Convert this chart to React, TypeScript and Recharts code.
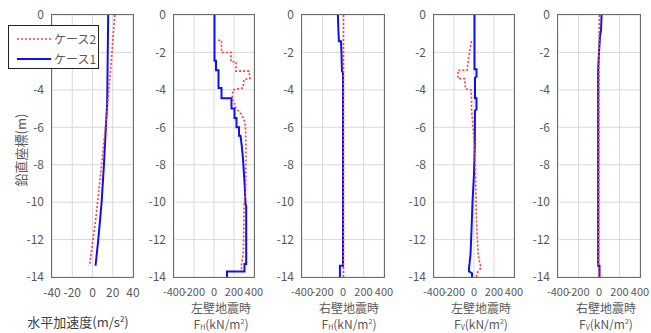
import React from "react";
import {
  ScatterChart,
  Scatter,
  XAxis,
  YAxis,
  CartesianGrid,
} from "recharts";

// depth ticks (m) and x-axis ticks
const depthTicks = [0, -2, -4, -6, -8, -10, -12, -14];
const accelTicks = [-40, -20, 0, 20, 40];
const forceTicks = [-400, -200, 0, 200, 400];

// [value, depth] pairs
const accelCase1 = [[15.5, 0], [14.5, -4.7], [13.2, -6], [11.3, -8], [9, -10], [7.4, -11], [5.7, -12], [3, -13.4]];
const accelCase2 = [[22, 0], [18.5, -2.5], [14.5, -5], [9, -8], [3, -11], [-3, -13.4]];

const leftFhCase1 = [
  [5, 0], [5, -2.45], [20, -2.45], [20, -2.95], [45, -2.95], [45, -3.9], [75, -3.9], [75, -4.45],
  [175, -4.45], [175, -5.0], [205, -5.0], [205, -5.5], [225, -5.5], [225, -6.0], [250, -6.0],
  [250, -6.45], [265, -6.45], [278, -7.0], [290, -7.7], [300, -8.5], [307, -9.1], [315, -10.1],
  [322, -10.2], [322, -13.3], [305, -13.3], [305, -13.7], [130, -13.7], [130, -14],
];
const leftFhCase2 = [
  [40, -1.35], [75, -1.35], [75, -2.0], [170, -2.0], [170, -2.5], [220, -2.5], [220, -3.0],
  [350, -3.0], [360, -3.4], [300, -3.45], [290, -3.9], [190, -4.0], [180, -4.5], [200, -4.6],
  [220, -5.0], [275, -5.3], [300, -5.6], [315, -6.0], [320, -7.0], [318, -8.5], [315, -9.5],
  [300, -10.2], [297, -11.5], [295, -12.5], [285, -13.0], [275, -13.3], [275, -13.6],
];

const rightFhCase1 = [
  [-50, 0], [-45, -0.8], [-40, -1.4], [-20, -1.4], [-15, -2.0], [-10, -3.0], [0, -3.1],
  [0, -13.4], [-30, -13.4], [-30, -14],
];
const rightFhCase2 = [[5, 0], [5, -14]];

const leftFvCase1 = [
  [5, 0], [5, -2.9], [25, -2.9], [25, -3.3], [10, -3.35], [10, -4.45], [25, -4.45], [25, -5.05],
  [10, -5.1], [8, -7], [0, -8.5], [-15, -10], [-25, -11.5], [-35, -12.8], [-45, -13.3],
  [-50, -13.5], [-50, -13.7], [-20, -13.8], [-20, -14],
];
const leftFvCase2 = [
  [-25, -1.4], [-45, -2.0], [-60, -2.5], [-70, -2.95], [-160, -2.95], [-160, -3.4], [-95, -3.4],
  [-85, -3.95], [-30, -4.0], [-25, -4.5], [-25, -5.0], [-10, -6.0], [5, -7.2], [15, -8.5],
  [20, -10], [25, -11], [40, -12.7], [55, -13.2], [70, -13.5], [30, -13.8], [25, -14],
];

const rightFvCase1 = [
  [25, 0], [20, -0.8], [10, -1.1], [0, -2.0], [-8, -2.9], [-8, -13.4], [5, -13.4], [5, -14],
];
const rightFvCase2 = [[5, 0], [0, -2], [-3, -14]];

const toPts = (a: number[][]) => a.map(([x, y]) => ({ x, y }));

const GRAY = "#595959";
const PLOT_TOP = 15;
const PLOT_BOTTOM = 277;
const Empty = () => <g />;

function Panel({ plotLeft, plotRight, xTicks, case1, case2, tickSize = 11 }: any) {
  const w = plotRight - plotLeft;
  return (
    <>
      <div style={{ position: "absolute", left: plotLeft - 45, top: 0 }}>
        <ScatterChart width={w + 65} height={333} margin={{ top: PLOT_TOP, right: 20, bottom: 333 - PLOT_BOTTOM - 24, left: 0 }}>
          <CartesianGrid stroke="#d9d9d9" />
          <XAxis
            type="number"
            dataKey="x"
            domain={[xTicks[0], xTicks[xTicks.length - 1]]}
            ticks={xTicks}
            interval={0}
            tickLine={false}
            axisLine={false}
            height={24}
            tickMargin={5}
            tick={{ fill: GRAY, fontSize: tickSize }}
            allowDataOverflow
          />
          <YAxis
            type="number"
            dataKey="y"
            domain={[-14, 0]}
            ticks={depthTicks}
            interval={0}
            tickLine={false}
            axisLine={false}
            width={45}
            tick={{ fill: GRAY, fontSize: 12 }}
          />
          <Scatter
            data={toPts(case1)}
            fill="#1010e8"
            line={{ stroke: "#1010e8", strokeWidth: 2 }}
            shape={Empty}
            isAnimationActive={false}
          />
          <Scatter
            data={toPts(case2)}
            fill="#ff3b3b"
            line={{ stroke: "#ff3b3b", strokeWidth: 1.6, strokeDasharray: "2 2" }}
            shape={Empty}
            isAnimationActive={false}
          />
        </ScatterChart>
      </div>
      <div
        style={{
          position: "absolute",
          left: plotLeft - 1,
          top: PLOT_TOP - 1,
          width: w,
          height: PLOT_BOTTOM - PLOT_TOP,
          border: "1.5px solid #6b6b6b",
          pointerEvents: "none",
        }}
      />
    </>
  );
}

const small = { fontSize: 7, lineHeight: 0, verticalAlign: "baseline", position: "relative" as const };

function Title({ cx, line1, sub }: { cx: number; line1: string; sub: string }) {
  const base = { position: "absolute" as const, left: cx - 50, width: 100, textAlign: "center" as const, fontSize: 12, color: GRAY, lineHeight: "13px", whiteSpace: "nowrap" as const };
  return (
    <>
      <div style={{ ...base, top: 301 }}>{line1}</div>
      <div style={{ ...base, top: 317 }}>
        F<span style={{ ...small, top: 1 }}>{sub}</span>(kN/m<span style={{ ...small, top: -5 }}>2</span>)
      </div>
    </>
  );
}

export default function App() {
  return (
    <div
      style={{
        position: "absolute",
        left: 0,
        top: 0,
        width: 651,
        height: 333,
        background: "#fff",
        overflow: "hidden",
        fontFamily: "'Noto Sans CJK JP', 'Noto Sans', sans-serif",
      }}
    >
      <Panel plotLeft={52} plotRight={133} xTicks={accelTicks} case1={accelCase1} case2={accelCase2} tickSize={12} />
      <Panel plotLeft={174} plotRight={254} xTicks={forceTicks} case1={leftFhCase1} case2={leftFhCase2} />
      <Panel plotLeft={302} plotRight={384} xTicks={forceTicks} case1={rightFhCase1} case2={rightFhCase2} />
      <Panel plotLeft={434} plotRight={514} xTicks={forceTicks} case1={leftFvCase1} case2={leftFvCase2} />
      <Panel plotLeft={558} plotRight={640} xTicks={forceTicks} case1={rightFvCase1} case2={rightFvCase2} />

      <div style={{ position: "absolute", left: 18, top: 314, width: 120, textAlign: "center", fontSize: 13, color: "#404040", lineHeight: "15px", whiteSpace: "nowrap" }}>
        水平加速度(m/s<span style={{ ...small, fontSize: 8, top: -5 }}>2</span>)
      </div>
      <Title cx={221} line1="左壁地震時" sub="H" />
      <Title cx={349} line1="右壁地震時" sub="H" />
      <Title cx={481} line1="左壁地震時" sub="V" />
      <Title cx={606} line1="右壁地震時" sub="V" />

      <div
        style={{
          position: "absolute",
          left: 21 - 50,
          top: 150 - 9,
          width: 100,
          textAlign: "center",
          fontSize: 13,
          color: GRAY,
          lineHeight: "18px",
          whiteSpace: "nowrap",
          transform: "rotate(-90deg)",
        }}
      >
        鉛直座標(m)
      </div>

      <div
        style={{
          position: "absolute",
          left: 8,
          top: 25,
          width: 89,
          height: 42,
          background: "#fff",
          border: "1.5px solid #222",
          fontSize: 12,
          color: GRAY,
          whiteSpace: "nowrap",
        }}
      >
        <svg width={44} height={42} style={{ position: "absolute", left: 0, top: 0 }}>
          <line x1={8} x2={42} y1={13} y2={13} stroke="#ff3b3b" strokeWidth={1.6} strokeDasharray="2 2" />
          <line x1={8} x2={42} y1={33} y2={33} stroke="#1010e8" strokeWidth={2} />
        </svg>
        <div style={{ position: "absolute", left: 45, top: 4, lineHeight: "18px" }}>ケース2</div>
        <div style={{ position: "absolute", left: 45, top: 24, lineHeight: "18px" }}>ケース1</div>
      </div>
    </div>
  );
}
